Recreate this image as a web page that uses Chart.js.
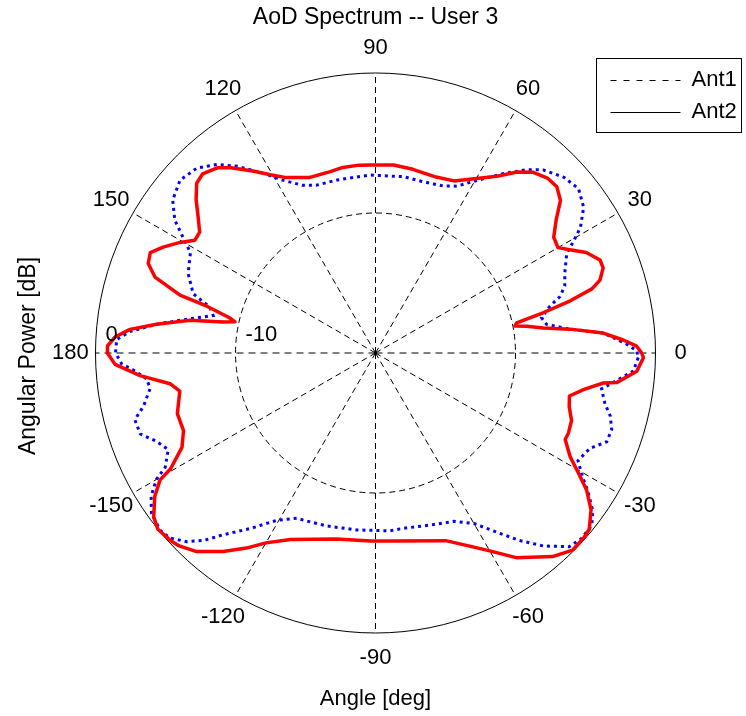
<!DOCTYPE html>
<html><head><meta charset="utf-8">
<script src="https://cdn.jsdelivr.net/npm/chart.js@4.4.0/dist/chart.umd.min.js"></script>
<style>html,body{margin:0;padding:0;background:#fff;}canvas{display:block;}</style>
</head><body>
<canvas id="c" width="746" height="716"></canvas>
<script>
const titleText = 'AoD Spectrum -- User 3';
const xAxisLabel = 'Angle [deg]';
const yAxisLabel = 'Angular Power [dB]';
const seriesNames = ['Ant1', 'Ant2'];
const angleTicks = [0, 30, 60, 90, 120, 150, 180, 210, 240, 270, 300, 330];
const angleTickLabels = ['0', '30', '60', '90', '120', '150', '180', '-150', '-120', '-90', '-60', '-30'];
const rhoMin = -20, rhoMax = 0, rhoStep = 10;

// Ant1 (blue dotted): angle [deg], power [dB]
const ant1Angles = [0.5, 2, 5, 7, 9.5, 12, 15, 17, 19.5, 23, 27.5, 29.5, 31.5, 35, 39, 43, 47.5, 50.5, 54.5, 59.5,
  64, 68, 74.5, 81, 92, 94, 102.5, 109.5, 113.5, 118, 122, 126.5, 130, 134, 138.5, 143, 146.5, 149, 151.5, 157,
  162, 164.5, 167, 169.5, 172.5, 175, 177, 180, 182.5, 184, 186.5, 189, 193, 195.5, 199, 202, 205, 208.5, 210, 212.5,
  215.5, 219.5, 222, 225, 227.5, 230, 234.5, 239.5, 244.5, 249, 254.5, 264, 274.5, 279, 287.5, 295, 300, 304, 307.5, 311,
  315, 318, 321.5, 324, 327, 329, 332, 336, 339, 342, 345, 347.5, 351, 353.5, 356, 359];
const ant1Db = [-1.34, -2.04, -3.67, -5.99, -7.61, -7.87, -7.11, -6.22, -5.66, -5.31, -4.6, -3.73, -2.83, -1.85, -1.34, -1.6, -2.26, -3.04, -4.25, -5.69,
  -6.74, -7.13, -7.3, -7.25, -7.28, -7.33, -7.34, -7.29, -6.94, -6.04, -4.87, -3.41, -2.42, -1.64, -1.36, -1.86, -2.81, -3.96, -4.96, -5.46,
  -6.31, -7.72, -8.1, -6.54, -4.23, -2.4, -1.49, -1.43, -1.86, -2.66, -3.56, -3.7, -2.98, -2.16, -2.23, -3.14, -3.66, -2.91, -1.93, -1.0,
  -0.34, -0.08, -0.24, -0.94, -1.84, -3.05, -4.6, -6.14, -6.92, -7.07, -7.17, -7.29, -7.26, -7.32, -7.11, -6.73, -5.93, -4.58, -3.12, -1.74,
  -0.43, -0.2, -0.26, -0.82, -1.92, -2.73, -3.62, -3.24, -2.31, -2.26, -2.64, -3.21, -3.65, -2.66, -1.54, -1.23];

// Ant2 (red solid): angle [deg], power [dB]
const ant2Angles = [0, 1.5, 3, 5, 7, 8.5, 10, 11, 12, 13.5, 15, 16.5, 18, 20.5, 22.5, 25.5, 28, 30, 33, 36.5,
  39.5, 42.5, 45.5, 49, 52, 55.5, 61.5, 65.5, 71, 78.5, 84.5, 91.5, 95, 100, 104, 110.5, 117, 120.5, 124, 128,
  130.5, 134, 136.5, 139.5, 142.5, 145.5, 148, 150.5, 153.5, 156, 158.5, 161, 163.5, 164.5, 166.5, 167.5, 168.5, 170, 172.5, 174.5,
  176.5, 178.5, 180, 182.5, 185.5, 188.5, 191, 197, 202, 206, 209.5, 210.5, 213, 216.5, 219, 222.5, 224.5, 228, 232.5, 236.5,
  240, 245.5, 258, 268.5, 274.5, 290.5, 296, 300, 304.5, 311, 315, 318.5, 320.5, 324, 327, 329.5, 332, 335.5, 337.5, 341,
  344.5, 347.5, 350, 352.5, 353, 356, 359];
const ant2Db = [-0.99, -1.34, -2.28, -3.67, -6.01, -7.88, -9.04, -9.85, -9.69, -7.69, -5.6, -3.88, -3.14, -2.64, -2.64, -3.32, -4.28, -4.95, -4.82, -3.94,
  -2.88, -2.43, -2.48, -2.89, -3.59, -4.68, -5.88, -6.49, -6.71, -6.61, -6.51, -6.56, -6.53, -6.54, -6.65, -6.61, -5.94, -5.22, -4.32, -3.21,
  -2.6, -2.22, -2.39, -3.15, -4.03, -4.76, -4.79, -3.96, -3.05, -2.39, -2.55, -3.34, -5.44, -7.5, -9.31, -9.72, -8.9, -6.55, -4.23, -2.38,
  -1.36, -0.85, -0.85, -1.38, -3.11, -5.16, -5.76, -5.2, -5.21, -4.62, -3.17, -2.14, -1.2, -0.29, 0.0, -0.16, -0.34, -0.91, -2.12, -3.29,
  -4.34, -5.36, -6.41, -6.56, -6.53, -5.69, -4.65, -3.68, -2.26, -0.73, -0.09, -0.11, -0.21, -0.97, -2.02, -3.21, -4.26, -5.11, -5.08, -5.19,
  -5.64, -5.81, -4.92, -3.59, -2.65, -1.29, -0.86];

// Radar category grid: 0.5 degree steps, clockwise from east (so index i = angle -i/2)
const STEP = 0.5, N = 720;
function idxOf(theta) { return Math.round(((((360 - theta) % 360) + 360) % 360) / STEP) % N; }
const labels = new Array(N).fill('');
angleTicks.forEach((a, k) => { labels[idxOf(a)] = angleTickLabels[k]; });
function series(angles, vals) {
  const d = new Array(N).fill(null);
  angles.forEach((a, k) => { d[idxOf(a)] = vals[k]; });
  return d;
}

const FONT = '22px "Liberation Sans", Arial, Helvetica, sans-serif';
const TITLE_FONT = '23px "Liberation Sans", Arial, Helvetica, sans-serif';

const textPlugin = {
  id: 'polarText',
  beforeDraw(chart) {
    chart.ctx.save();
    chart.ctx.translate(0.5, 0);
  },
  afterDraw(chart) {
    const ctx = chart.ctx, s = chart.scales.r;
    ctx.save();
    ctx.fillStyle = '#000';
    ctx.font = TITLE_FONT;
    ctx.textAlign = 'center';
    ctx.textBaseline = 'middle';
    ctx.fillText(titleText, 375, 18);
    ctx.font = FONT;
    const labelR = s.drawingArea * 1.09;
    chart.data.labels.forEach((lab, i) => {
      if (!lab) return;
      const p = s.getPointPosition(i, labelR);
      ctx.fillText(lab, p.x, p.y);
    });
    ctx.textAlign = 'left';
    s.ticks.forEach(t => {
      if (t.value === s.min) return;
      const d = s.getDistanceFromCenterForValue(t.value);
      ctx.fillText(t.label, s.xCenter - d + 10, s.yCenter - 18);
    });
    ctx.textAlign = 'center';
    ctx.fillText(xAxisLabel, 375, 699);
    ctx.save();
    ctx.translate(28, 356);
    ctx.rotate(-Math.PI / 2);
    ctx.font = TITLE_FONT;
    ctx.fillText(yAxisLabel, 0, 0);
    ctx.restore();
    // legend
    const bx = 596, by = 58.5, bw = 145, bh = 74;
    ctx.fillStyle = '#fff';
    ctx.fillRect(bx, by, bw, bh);
    ctx.strokeStyle = '#000';
    ctx.lineWidth = 1;
    ctx.setLineDash([]);
    ctx.strokeRect(bx, by, bw, bh);
    const rows = [80, 112];
    seriesNames.forEach((name, k) => {
      ctx.beginPath();
      ctx.setLineDash(k === 0 ? [6, 7] : []);
      ctx.moveTo(610, rows[k] + 0.5);
      ctx.lineTo(680, rows[k] + 0.5);
      ctx.stroke();
      ctx.setLineDash([]);
      ctx.fillStyle = '#000';
      ctx.textAlign = 'left';
      ctx.fillText(name, 691, rows[k]);
    });
    ctx.restore();
    ctx.restore();
  }
};

new Chart(document.getElementById('c'), {
  type: 'radar',
  data: {
    labels: labels,
    datasets: [
      { label: seriesNames[0], data: series(ant1Angles, ant1Db), borderColor: '#0000ff', borderWidth: 3,
        borderDash: [3, 4], borderCapStyle: 'butt', pointRadius: 0, pointHoverRadius: 0, fill: false, spanGaps: true, order: 2 },
      { label: seriesNames[1], data: series(ant2Angles, ant2Db), borderColor: '#ff0000', borderWidth: 3.5,
        borderJoinStyle: 'round', pointRadius: 0, pointHoverRadius: 0, fill: false, spanGaps: true, order: 1 }
    ]
  },
  options: {
    responsive: false,
    animation: false,
    events: [],
    devicePixelRatio: 1,
    layout: { padding: { left: 95, right: 91, top: 73, bottom: 83 } },
    plugins: { legend: { display: false }, title: { display: false }, tooltip: { enabled: false } },
    scales: {
      r: {
        min: rhoMin, max: rhoMax, startAngle: 90,
        ticks: { display: false, stepSize: rhoStep },
        pointLabels: { display: false },
        grid: {
          circular: true, lineWidth: 1,
          color: c => (c.tick && c.tick.value === rhoMin) ? 'rgba(0,0,0,0)' : '#000'
        },
        border: { dash: c => (c.tick && c.tick.value === rhoMax) ? [] : [6, 4] },
        angleLines: {
          color: '#000',
          lineWidth: c => (c.index % 60 === 0) ? 1 : 0,
          borderDash: c => (c.index === 0 || c.index === N / 2) ? [7, 5] : [6, 4]
        }
      }
    }
  },
  plugins: [textPlugin]
});
</script>
</body></html>
